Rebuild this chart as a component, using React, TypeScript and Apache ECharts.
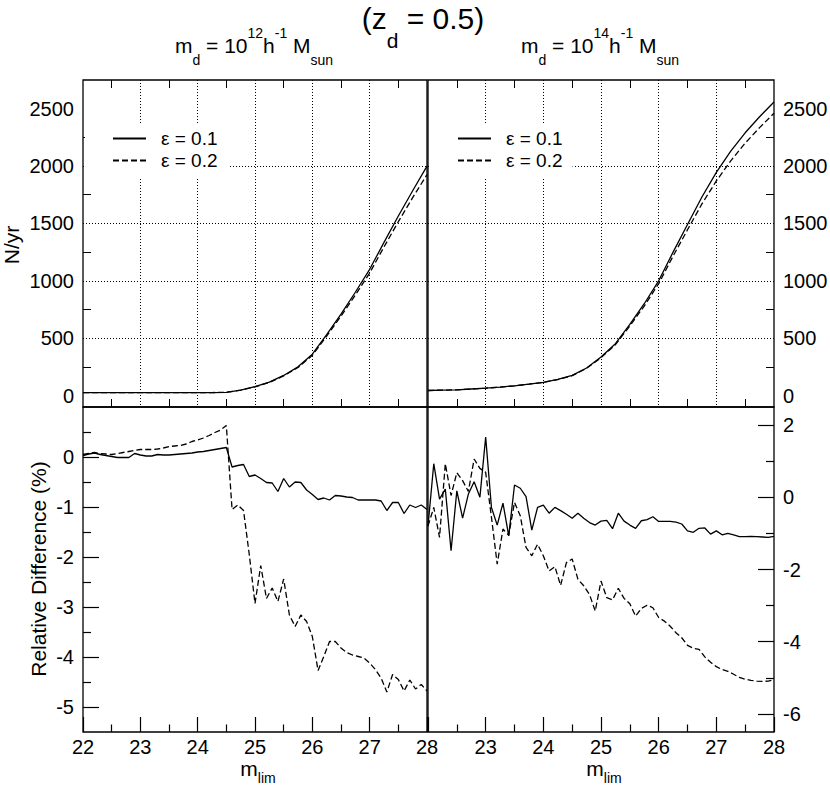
import React, { useEffect, useRef } from "react";
import * as echarts from "echarts";

const FONT = "Liberation Sans";

// ---------- data ----------
const legendNames = ["ε = 0.1", "ε = 0.2"];

// top panels (N/yr)
const mTop = [22, 22.25, 22.5, 22.75, 23, 23.25, 23.5, 23.75, 24, 24.25, 24.5, 24.75, 25, 25.25, 25.5, 25.75, 26, 26.25, 26.5, 26.75, 27, 27.25, 27.5, 27.75, 28];
const nLeftEps01 = [26, 26, 26, 26, 26, 26, 26, 26, 26, 26, 28, 48, 78, 117, 175, 250, 360, 530, 710, 900, 1100, 1335, 1565, 1785, 2000];
const nLeftEps02 = [26, 26, 26, 26, 26, 26, 26, 26, 26, 26, 28, 47, 76, 114, 171, 244, 350, 518, 692, 875, 1068, 1295, 1515, 1725, 1925];
const nRightEps01 = [44, 47, 50, 57, 64, 74, 85, 99, 115, 140, 175, 240, 335, 452, 620, 800, 1000, 1250, 1490, 1730, 1945, 2130, 2290, 2430, 2558];
const nRightEps02 = [44, 47, 50, 57, 64, 74, 85, 99, 115, 139, 173, 237, 330, 443, 607, 780, 975, 1215, 1445, 1670, 1870, 2045, 2200, 2335, 2460];

// bottom panels (relative difference, %)
const mRel = [
  22.0, 22.1, 22.2, 22.3, 22.4, 22.5, 22.6, 22.7, 22.8, 22.9,
  23.0, 23.1, 23.2, 23.3, 23.4, 23.5, 23.6, 23.7, 23.8, 23.9,
  24.0, 24.1, 24.2, 24.3, 24.4, 24.5, 24.6, 24.7, 24.8, 24.9,
  25.0, 25.1, 25.2, 25.3, 25.4, 25.5, 25.6, 25.7, 25.8, 25.9,
  26.0, 26.1, 26.2, 26.3, 26.4, 26.5, 26.6, 26.7, 26.8, 26.9,
  27.0, 27.1, 27.2, 27.3, 27.4, 27.5, 27.6, 27.7, 27.8, 27.9,
  28.0,
];
const relLeftEps01 = [
  0.03, 0.06, 0.08, 0.05, 0.03, 0.01, -0.01, -0.01, -0.01, 0.07,
  0.04, 0.02, 0.02, 0.05, 0.04, 0.04, 0.05, 0.06, 0.07, 0.08,
  0.10, 0.11, 0.13, 0.15, 0.17, 0.19, -0.20, -0.17, -0.15, -0.39,
  -0.36, -0.43, -0.51, -0.52, -0.69, -0.43, -0.60, -0.50, -0.51, -0.66,
  -0.75, -0.85, -0.82, -0.86, -0.77, -0.78, -0.80, -0.81, -0.86, -0.86,
  -0.86, -0.86, -0.88, -1.07, -0.91, -0.91, -1.13, -0.96, -1.01, -0.96,
  -1.05,
];
const relLeftEps02 = [
  0.05, 0.07, 0.09, 0.07, 0.06, 0.05, 0.07, 0.09, 0.11, 0.13,
  0.15, 0.15, 0.15, 0.16, 0.18, 0.21, 0.22, 0.23, 0.26, 0.31,
  0.34, 0.38, 0.43, 0.49, 0.54, 0.63, -1.05, -0.96, -1.07, -1.95,
  -2.93, -2.17, -2.83, -2.62, -2.89, -2.44, -3.16, -3.39, -3.16, -3.29,
  -3.59, -4.27, -3.99, -3.69, -3.69, -3.82, -3.91, -3.96, -3.99, -4.02,
  -4.12, -4.25, -4.42, -4.70, -4.35, -4.45, -4.68, -4.46, -4.64, -4.55,
  -4.68,
];
const relRightEps01 = [
  -0.80, 0.93, -0.05, 0.23, -1.48, 0.18, -0.58, 0.09, 0.43, 0.0,
  1.67, -0.28, -0.77, -0.16, -1.07, 0.34, 0.25, 0.02, -0.91, -0.28,
  -0.22, -0.44, -0.28, -0.37, -0.47, -0.58, -0.44, -0.58, -0.70, -0.77,
  -0.66, -0.64, -0.87, -0.44, -0.66, -0.77, -0.86, -0.65, -0.62, -0.54,
  -0.67, -0.67, -0.67, -0.69, -0.74, -0.93, -0.97, -0.86, -0.85, -1.02,
  -0.93, -1.04, -1.00, -1.04, -1.09, -1.09, -1.08, -1.09, -1.10, -1.11,
  -1.08,
];
const relRightEps02 = [
  -0.80, -0.28, -1.11, 0.93, 0.05, 0.68, 0.46, 0.16, 1.06, 0.80,
  0.69, -0.55, -1.85, -0.88, -1.05, -0.14, -0.51, -1.39, -1.62, -1.30,
  -1.62, -2.04, -1.92, -2.44, -1.81, -1.71, -2.27, -2.45, -2.69, -3.15,
  -2.32, -2.78, -2.84, -2.52, -2.80, -2.95, -3.29, -3.08, -2.99, -3.06,
  -3.33, -3.43, -3.57, -3.75, -3.89, -4.10, -4.18, -4.21, -4.42, -4.57,
  -4.69, -4.77, -4.82, -4.90, -4.99, -5.04, -5.07, -5.09, -5.10, -5.09,
  -5.05,
];

// tick values
const topLabelValues = [0, 500, 1000, 1500, 2000, 2500];
const topMinorValues = [250, 750, 1250, 1750, 2250];
const relLeftLabelValues = [-5, -4, -3, -2, -1, 0];
const relLeftMinorValues = [-4.5, -3.5, -2.5, -1.5, -0.5, 0.5];
const relRightLabelValues = [-6, -4, -2, 0, 2];
const relRightMinorValues = [-5, -3, -1, 1];
const xLabelsLeft = [22, 23, 24, 25, 26, 27, 28];
const xLabelsRight = [23, 24, 25, 26, 27, 28];

// ---------- helpers ----------
const pairs = (xs: number[], ys: number[]) => xs.map((x, i) => [x, ys[i]]);
const BLACK = "#000";
const dotted = { color: BLACK, width: 1, type: [1, 2] as any };
const labelBase = { color: BLACK, fontFamily: FONT, fontSize: 20 };
const noLine = { show: false, onZero: false };

function topX(gridIndex: number, position: string, split: boolean) {
  return {
    type: "value", gridIndex, position, min: 22, max: 28, interval: 1,
    axisLine: noLine,
    axisTick: { show: false, inside: true },
    minorTick: { show: true, splitNumber: 2, length: 8, lineStyle: { color: BLACK, width: 1 } },
    axisLabel: { show: false },
    splitLine: { show: split, showMinLine: false, showMaxLine: false, lineStyle: dotted },
  };
}
function bottomX(gridIndex: number, labels: number[]) {
  return {
    type: "value", gridIndex, position: "bottom", min: 22, max: 28, interval: 1,
    axisLine: noLine,
    axisTick: { show: true, inside: true, length: 15, lineStyle: { color: BLACK, width: 1.2 } },
    minorTick: { show: true, splitNumber: 2, length: 7.5, lineStyle: { color: BLACK, width: 1.2 } },
    axisLabel: {
      ...labelBase, margin: 5, showMinLabel: true, showMaxLabel: true,
      customValues: labels,
      formatter: (v: number) => (labels.indexOf(v) >= 0 ? String(v) : ""),
    },
    splitLine: { show: false },
  };
}
function topY(gridIndex: number, position: string) {
  return [
    {
      type: "value", gridIndex, position, min: -100, max: 2750, splitNumber: 5,
      axisLine: noLine,
      axisTick: { show: false, customValues: topLabelValues },
      axisLabel: {
        ...labelBase, margin: 9, customValues: topLabelValues,
        formatter: (v: number) => (topLabelValues.indexOf(v) >= 0 ? String(v) : ""),
      },
      splitLine: { show: true, showMinLine: false, showMaxLine: false, lineStyle: dotted },
    },
    {
      type: "value", gridIndex, position, min: -100, max: 2750,
      axisLine: noLine,
      axisTick: { show: true, inside: true, length: 8, customValues: topMinorValues, lineStyle: { color: BLACK, width: 1 } },
      axisLabel: { show: false },
      splitLine: { show: false },
    },
  ];
}
function relY(gridIndex: number, position: string, min: number, max: number, major: number[], minor: number[]) {
  return [
    {
      type: "value", gridIndex, position, min, max,
      axisLine: noLine,
      axisTick: { show: true, inside: true, length: 16, customValues: major, lineStyle: { color: BLACK, width: 1.2 } },
      axisLabel: {
        ...labelBase, margin: 9, customValues: major,
        formatter: (v: number) => (major.indexOf(v) >= 0 ? String(v) : ""),
      },
      splitLine: { show: false },
    },
    {
      type: "value", gridIndex, position, min, max,
      axisLine: noLine,
      axisTick: { show: true, inside: true, length: 8, customValues: minor, lineStyle: { color: BLACK, width: 1.2 } },
      axisLabel: { show: false },
      splitLine: { show: false },
    },
  ];
}
function line(name: string, data: number[][], xAxisIndex: number, yAxisIndex: number, dashed: boolean) {
  return {
    type: "line", name, data, xAxisIndex, yAxisIndex,
    symbol: "none", showSymbol: false, smooth: false,
    lineStyle: { color: BLACK, width: 1.3, type: dashed ? [6, 3] : "solid" },
    itemStyle: { color: BLACK },
    emphasis: { disabled: true },
    z: 3,
  };
}
function legend(left: number, padRight: number) {
  return {
    data: legendNames, orient: "vertical", left, top: 123,
    padding: [5, padRight, 7, 27],
    itemWidth: 33, itemHeight: 14, itemGap: 1,
    backgroundColor: "#fff", borderWidth: 0,
    selectedMode: false,
    itemStyle: { opacity: 0, borderWidth: 0 },
    formatter: (name: string) => `{g| }${name}`,
    textStyle: {
      color: BLACK, fontFamily: FONT, fontSize: 19, lineHeight: 21,
      rich: { g: { width: 10, fontSize: 19, lineHeight: 21, fontFamily: FONT } },
    },
  };
}

// rich text styles for graphic texts
const rich = (size: number, pad: number) => ({ fontFamily: FONT, fontSize: size, lineHeight: size, fill: BLACK, color: BLACK, verticalAlign: "top", padding: [pad, 0, 0, 0] });

function subtitle(x: number, exp: string) {
  return {
    type: "text", x, y: 26,
    style: {
      text: `{a|m}{sb|d}{a| = 10}{sp|${exp}}{a|h}{sp|-1}{a| M}{sb|sun}`,
      align: "center", verticalAlign: "top", fill: BLACK, fontFamily: FONT,
      rich: { a: rich(21, 9), sp: rich(14, 0), sb: rich(14, 27) },
    },
  };
}
function mlim(x: number) {
  return {
    type: "text", x, y: 758,
    style: {
      text: "{a|m}{sb|lim}",
      align: "center", verticalAlign: "top", fill: BLACK, fontFamily: FONT,
      rich: { a: rich(21, 0), sb: rich(14, 13) },
    },
  };
}

export default function App() {
  const ref = useRef<HTMLDivElement>(null);
  useEffect(() => {
    if (!ref.current) return;
    const chart = echarts.init(ref.current, null, { renderer: "svg" });
    const gridBase = { show: true, borderColor: BLACK, borderWidth: 1.3, backgroundColor: "transparent", containLabel: false, outerBoundsMode: "none" };
    const option: any = {
      animation: false,
      backgroundColor: "#fff",
      textStyle: { fontFamily: FONT },
      grid: [
        { ...gridBase, left: 83, top: 80, width: 344, height: 327 },
        { ...gridBase, left: 428, top: 80, width: 346, height: 327 },
        { ...gridBase, left: 83, top: 407, width: 344, height: 325 },
        { ...gridBase, left: 428, top: 407, width: 346, height: 325 },
      ],
      xAxis: [
        topX(0, "bottom", true),
        topX(0, "top", false),
        topX(1, "bottom", true),
        topX(1, "top", false),
        bottomX(2, xLabelsLeft),
        bottomX(3, xLabelsRight),
      ],
      yAxis: [
        ...topY(0, "left"),
        ...topY(1, "right"),
        ...relY(2, "left", -5.5, 1, relLeftLabelValues, relLeftMinorValues),
        ...relY(3, "right", -6.5, 2.5, relRightLabelValues, relRightMinorValues),
      ],
      legend: [legend(85, 12), legend(430, 10)],
      series: [
        line(legendNames[0], pairs(mTop, nLeftEps01), 0, 0, false),
        line(legendNames[1], pairs(mTop, nLeftEps02), 0, 0, true),
        line(legendNames[0], pairs(mTop, nRightEps01), 2, 2, false),
        line(legendNames[1], pairs(mTop, nRightEps02), 2, 2, true),
        line(legendNames[0], pairs(mRel, relLeftEps01), 4, 4, false),
        line(legendNames[1], pairs(mRel, relLeftEps02), 4, 4, true),
        line(legendNames[0], pairs(mRel, relRightEps01), 5, 6, false),
        line(legendNames[1], pairs(mRel, relRightEps02), 5, 6, true),
      ],
      graphic: [
        {
          type: "text", x: 423, y: 3,
          style: {
            text: "{t|(z}{ts|d}{t| = 0.5)}",
            align: "center", verticalAlign: "top", fill: BLACK, fontFamily: FONT,
            rich: { t: rich(30, 0), ts: rich(21, 27) },
          },
        },
        subtitle(254, "12"),
        subtitle(600, "14"),
        {
          type: "text", x: 11, y: 245, rotation: Math.PI / 2,
          style: { text: "N/yr", align: "center", verticalAlign: "middle", fill: BLACK, fontFamily: FONT, fontSize: 21 },
        },
        {
          type: "text", x: 38, y: 569, rotation: Math.PI / 2,
          style: { text: "Relative Difference (%)", align: "center", verticalAlign: "middle", fill: BLACK, fontFamily: FONT, fontSize: 21 },
        },
        mlim(258),
        mlim(604),
      ],
    };
    chart.setOption(option);
    return () => chart.dispose();
  }, []);
  return (
    <div
      ref={ref}
      style={{ position: "fixed", left: 0, top: 0, width: 830, height: 786, background: "#fff" }}
    />
  );
}
